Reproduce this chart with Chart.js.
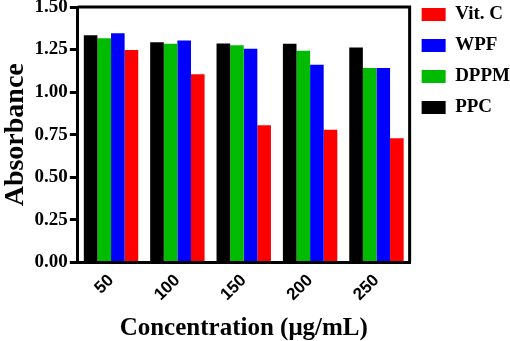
<!DOCTYPE html>
<html>
<head>
<meta charset="utf-8">
<script src="https://cdn.jsdelivr.net/npm/chart.js@4/dist/chart.umd.min.js"></script>
<style>
  html, body { margin: 0; padding: 0; background: #fff; }
  #wrap { width: 510px; height: 341px; }
</style>
</head>
<body>
<div id="wrap"><canvas id="myChart"></canvas></div>
<script>
// concentrations (ug/mL)
const concentrations = ['50', '100', '150', '200', '250'];

// absorbance per sample
const ppc  = [1.334, 1.293, 1.286, 1.284, 1.262];
const dppm = [1.316, 1.284, 1.276, 1.243, 1.142];
const wpf  = [1.346, 1.304, 1.255, 1.161, 1.142];
const vitC = [1.248, 1.105, 0.806, 0.780, 0.730];

const yTicks = [0, 0.25, 0.5, 0.75, 1.0, 1.25, 1.5];

const serif = 'Liberation Serif';
const sans = 'Liberation Sans';

// draws the closed box round the plot like Prism does
const frameBox = {
    id: 'frameBox',
    afterDatasetsDraw(chart) {
        const a = chart.chartArea;
        const ctx = chart.ctx;
        ctx.save();
        ctx.strokeStyle = '#000';
        ctx.lineWidth = 3;
        ctx.beginPath();
        ctx.moveTo(a.left, a.top);
        ctx.lineTo(a.right, a.top);
        ctx.lineTo(a.right, a.bottom);
        ctx.stroke();
        ctx.restore();
    }
};

var ctx = document.getElementById('myChart').getContext('2d');
var myBarChart = new Chart(ctx, {
    type: 'bar',
    data: {
        labels: concentrations,
        datasets: [
            { label: 'PPC',    data: ppc,  backgroundColor: '#000000' },
            { label: 'DPPM',   data: dppm, backgroundColor: '#00bb00' },
            { label: 'WPF',    data: wpf,  backgroundColor: '#0000ff' },
            { label: 'Vit. C', data: vitC, backgroundColor: '#ff0000' }
        ]
    },
    options: {
        responsive: true,
        maintainAspectRatio: false,
        animation: false,
        datasets: {
            bar: { barPercentage: 1.0, categoryPercentage: 0.82 }
        },
        layout: { padding: { top: -7, right: -10, left: -1, bottom: -3 } },
        plugins: {
            tooltip: { enabled: false },
            legend: {
                position: 'right',
                align: 'start',
                reverse: true,
                labels: {
                    boxWidth: 24,
                    boxHeight: 13,
                    padding: 12,
                    color: '#000',
                    font: { family: serif, size: 19, weight: 'bold' }
                }
            }
        },
        scales: {
            x: {
                grid: { display: false, drawTicks: true, tickLength: 8, tickColor: '#000', lineWidth: 3 },
                border: { display: true, color: '#000', width: 3 },
                ticks: {
                    color: '#000',
                    minRotation: 45,
                    maxRotation: 45,
                    padding: 0,
                    font: { family: sans, size: 17, weight: 'bold' }
                },
                title: {
                    display: true,
                    text: 'Concentration (μg/mL)',
                    color: '#000',
                    padding: { top: 9, bottom: 0 },
                    font: { family: serif, size: 25, weight: 'bold' }
                }
            },
            y: {
                min: 0,
                max: 1.5,
                afterBuildTicks: function (axis) {
                    axis.ticks = yTicks.map(v => ({ value: v }));
                },
                afterFit: function (axis) {
                    axis.paddingTop = 7;
                },
                grid: { drawOnChartArea: false, drawTicks: true, tickLength: 8, tickColor: '#000', lineWidth: 3 },
                border: { display: true, color: '#000', width: 3 },
                ticks: {
                    color: '#000',
                    padding: 2,
                    font: { family: serif, size: 19, weight: 'bold' },
                    callback: function (v) { return Number(v).toFixed(2); }
                },
                title: {
                    display: true,
                    text: 'Absorbance',
                    color: '#000',
                    padding: { top: 0, bottom: 0 },
                    font: { family: serif, size: 28, weight: 'bold' }
                }
            }
        }
    },
    plugins: [frameBox]
});
</script>
</body>
</html>
